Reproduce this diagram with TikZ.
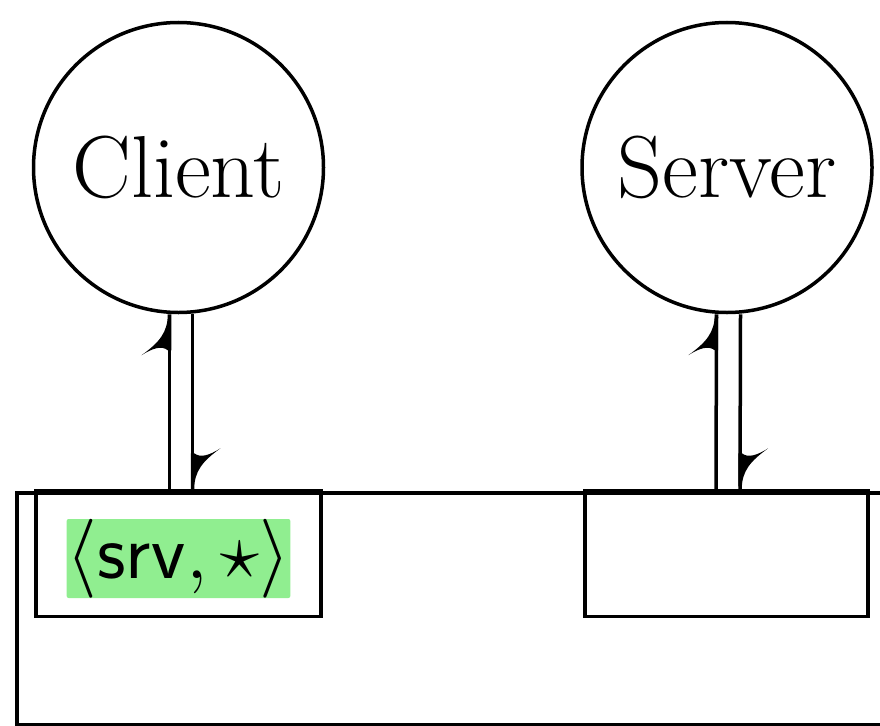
\RequirePackage{fix-cm}
\documentclass[tikz,border=0pt]{standalone}
\usepackage{amsmath}
\usepackage{tikz}
\usetikzlibrary{arrows.meta,positioning}
\definecolor{srvgreen}{RGB}{144,238,144}
\pgfdeclarearrow{
  name=Barb,
  setup code={\pgfarrowssettipend{0pt}\pgfarrowssetlineend{-3pt}},
  drawing code={
    \pgfpathmoveto{\pgfqpoint{-36pt}{-1.75pt}}
    \pgfpathlineto{\pgfqpoint{0pt}{-1.75pt}}
    \pgfpathlineto{\pgfqpoint{0pt}{1.75pt}}
    \pgfpathcurveto{\pgfqpoint{-18pt}{1.75pt}}{\pgfqpoint{-28pt}{10pt}}{\pgfqpoint{-41pt}{28pt}}
    \pgfpathcurveto{\pgfqpoint{-34pt}{17pt}}{\pgfqpoint{-31pt}{8pt}}{\pgfqpoint{-36pt}{1.75pt}}
    \pgfpathclose
    \pgfusepathqfill
  }
}

\begin{document}
\begin{tikzpicture}[x=1pt,y=1pt,line width=3.5pt,
                   agent/.style={circle,draw,minimum size=290pt,font=\fontsize{88}{90}\selectfont},
                   slot/.style={draw,minimum height=125.5pt,inner sep=0pt},
                   hp/.style={-Barb}]
\clip (0,0) rectangle (880,-725);
\node[agent] (client) at (178.5,-167.5) {Client};
\node[agent] (server) at (727,-167.5) {Server};
\node[draw,anchor=north west,minimum width=900pt,minimum height=231.5pt,inner sep=0pt] (frame) at (15,-491) {};
\node[slot,minimum width=285pt] (cbox) at (178.5,-553.75) {};
\node[slot,minimum width=283pt] (sbox) at (726.5,-553.75) {};
\node[fill=srvgreen,inner sep=0pt,rounded corners=2pt,font=\fontsize{79}{80}\selectfont] (tag)
  at ([yshift=-4.75pt]cbox.center) {$\langle\mathsf{srv},\star\rangle$};
\draw[hp] ([xshift=-9pt]cbox.north) -- ([xshift=-9pt]client.south);
\draw[hp] ([xshift=14pt]client.south) -- ([xshift=14pt]cbox.north);
\draw[hp] ([xshift=-10.5pt]sbox.north) -- ([xshift=-10.5pt]server.south);
\draw[hp] ([xshift=13.5pt]server.south) -- ([xshift=13.5pt]sbox.north);
\end{tikzpicture}
\end{document}
